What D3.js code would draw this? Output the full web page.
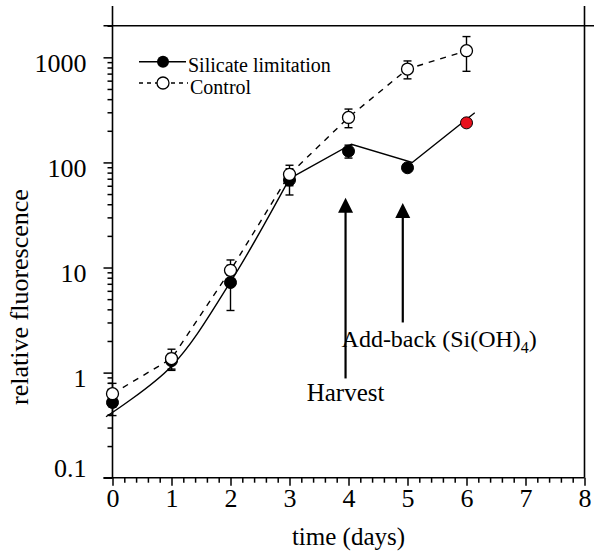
<!DOCTYPE html>
<html><head><meta charset="utf-8">
<script src="https://cdn.jsdelivr.net/npm/d3@7"></script>
<style>body{margin:0;background:#fff}svg{display:block}text{font-family:"Liberation Serif","Times New Roman",serif;fill:#000}</style>
</head><body><svg id="c" width="594" height="552"></svg>
<script>
// ---- data ----
const days = [0, 1, 2, 3, 4, 5, 6];
const silicate = [0.52, 1.3, 7.2, 68, 128, 89, 238];
const silicateErr = [0.13, 0.22, 3.3, 19, 18, 5, 10];
const control = [0.63, 1.36, 9.4, 77, 268, 774, 1156];
const controlErr = [0.16, 0.31, 2.4, 17, 54, 150, 420];
const highlightDay = 6; // red point
const modelDays = [-0.11, 1, 2, 3];
const modelVals = [0.38, 1.15, 7.3, 70];
const modelLateDays = [3, 4.05, 5.08, 6.14];
const modelLateVals = [70, 149, 100, 297];
const xTicks = [0, 1, 2, 3, 4, 5, 6, 7, 8];
const yTicks = [0.1, 1, 10, 100, 1000];
const yTickLabels = ["0.1", "1", "10", "100", "1000"];
const arrowDays = [3.95, 4.92];
const arrowTop = [46, 41];
const arrowBottom = [0.88, 3.0];
const legendLabels = ["Silicate limitation", "Control"];

// ---- layout ----
const FONT = "Liberation Serif, Times New Roman, serif";
const L = 112.5, R = 584.5, T = 25.7, B = 477.7;
const svg = d3.select("#c");
const x = d3.scaleLinear().domain([0, 8]).range([L, R]);
const y = d3.scaleLog().domain([0.1, 2000]).range([B, T]);

// frame lines
svg.append("line").attr("x1", L - 9).attr("x2", 594).attr("y1", T).attr("y2", T).attr("stroke", "#000").attr("stroke-width", 1.6);
svg.append("line").attr("x1", L).attr("x2", L).attr("y1", 6).attr("y2", B).attr("stroke", "#000").attr("stroke-width", 1.6);
svg.append("line").attr("x1", R).attr("x2", R).attr("y1", 6).attr("y2", B).attr("stroke", "#000").attr("stroke-width", 1.6);
svg.append("line").attr("x1", L - 9).attr("x2", R).attr("y1", B).attr("y2", B).attr("stroke", "#000").attr("stroke-width", 1.6);

// x axis
const xMinor = d3.range(0, 8.001, 0.2).filter(v => Math.abs(v - Math.round(v)) > 1e-6);
const gxm = svg.append("g").attr("transform", `translate(0,${B})`)
  .call(d3.axisBottom(x).tickValues(xMinor).tickSize(5).tickFormat(""));
const gx = svg.append("g").attr("transform", `translate(0,${B})`)
  .call(d3.axisBottom(x).tickValues(xTicks).tickSize(8).tickFormat(d3.format("d")));
[gxm, gx].forEach(g => { g.attr("font-family", FONT); g.select(".domain").remove(); g.selectAll("line").attr("stroke", "#000").attr("stroke-width", 1.5); });
gx.selectAll("text").attr("font-size", 26).attr("dy", "0.72em").attr("y", 11).attr("font-family", FONT);

// y axis
const yMinor = [];
[0.1, 1, 10, 100, 1000].forEach(d => { for (let k = 2; k <= 9; k++) if (d * k <= 2000) yMinor.push(d * k); });
const gym = svg.append("g").attr("transform", `translate(${L},0)`)
  .call(d3.axisLeft(y).tickValues(yMinor).tickSize(5).tickFormat(""));
const gy = svg.append("g").attr("transform", `translate(${L},0)`)
  .call(d3.axisLeft(y).tickValues(yTicks).tickSize(9).tickFormat((d, i) => yTickLabels[i]));
[gym, gy].forEach(g => { g.attr("font-family", FONT); g.select(".domain").remove(); g.selectAll("line").attr("stroke", "#000").attr("stroke-width", 1.5); });
gy.selectAll("text").attr("font-size", 26).attr("x", -26).attr("font-family", FONT)
  .attr("dy", (d, i) => i === 0 ? "-0.05em" : "0.55em");

// axis titles
svg.append("text").attr("x", (L + R) / 2).attr("y", 545).attr("text-anchor", "middle").attr("font-size", 25).text("time (days)");
svg.append("text").attr("transform", `translate(28,297) rotate(-90)`).attr("text-anchor", "middle").attr("font-size", 26).text("relative fluorescence");

// model lines
svg.append("path").datum(modelDays.map((d, i) => [d, modelVals[i]]))
  .attr("d", d3.line().x(d => x(d[0])).y(d => y(d[1])).curve(d3.curveCatmullRom.alpha(0.5)))
  .attr("fill", "none").attr("stroke", "#000").attr("stroke-width", 1.4);
svg.append("path").datum(modelLateDays.map((d, i) => [d, modelLateVals[i]]))
  .attr("d", d3.line().x(d => x(d[0])).y(d => y(d[1]))).attr("fill", "none").attr("stroke", "#000").attr("stroke-width", 1.4);
svg.append("path").datum(days.map((d, i) => [d, control[i]]))
  .attr("d", d3.line().x(d => x(d[0])).y(d => y(d[1]))).attr("fill", "none").attr("stroke", "#000").attr("stroke-width", 1.4).attr("stroke-dasharray", "6,6");

// error bars
function errBars(vals, errs) {
  const g = svg.append("g").attr("stroke", "#000").attr("stroke-width", 1.4);
  days.forEach((d, i) => {
    const cx = x(d), y1 = y(vals[i] + errs[i]), y0 = y(Math.max(vals[i] - errs[i], 0.101));
    g.append("line").attr("x1", cx).attr("x2", cx).attr("y1", y1).attr("y2", y0);
    g.append("line").attr("x1", cx - 4).attr("x2", cx + 4).attr("y1", y1).attr("y2", y1);
    g.append("line").attr("x1", cx - 4).attr("x2", cx + 4).attr("y1", y0).attr("y2", y0);
  });
}
errBars(silicate, silicateErr);
errBars(control, controlErr);

// points
svg.append("g").selectAll("circle").data(days).join("circle")
  .attr("cx", d => x(d)).attr("cy", (d, i) => y(silicate[i])).attr("r", 6)
  .attr("fill", d => d === highlightDay ? "#e8101c" : "#000").attr("stroke", "#000").attr("stroke-width", 1);
svg.append("g").selectAll("circle").data(days).join("circle")
  .attr("cx", d => x(d)).attr("cy", (d, i) => y(control[i])).attr("r", 6)
  .attr("fill", "#fff").attr("stroke", "#000").attr("stroke-width", 1.3);

// legend
const lg = svg.append("g");
lg.append("line").attr("x1", 139).attr("x2", 186).attr("y1", 61.7).attr("y2", 61.7).attr("stroke", "#000").attr("stroke-width", 1.4);
lg.append("circle").attr("cx", 163).attr("cy", 61.7).attr("r", 6).attr("fill", "#000");
lg.append("text").attr("x", 188).attr("y", 71.5).attr("font-size", 20).text(legendLabels[0]);
lg.append("line").attr("x1", 139).attr("x2", 188).attr("y1", 83).attr("y2", 83).attr("stroke", "#000").attr("stroke-width", 1.4).attr("stroke-dasharray", "4,4");
lg.append("circle").attr("cx", 163).attr("cy", 83).attr("r", 6).attr("fill", "#fff").attr("stroke", "#000").attr("stroke-width", 1.3);
lg.append("text").attr("x", 190).attr("y", 94).attr("font-size", 20).text(legendLabels[1]);

// arrows
arrowDays.forEach((d, i) => {
  const ax = x(d), yt = y(arrowTop[i]), yb = y(arrowBottom[i]);
  svg.append("line").attr("x1", ax).attr("x2", ax).attr("y1", yb).attr("y2", yt + 12).attr("stroke", "#000").attr("stroke-width", 2.2);
  svg.append("path").attr("d", `M${ax},${yt} L${ax - 7.5},${yt + 15} L${ax + 7.5},${yt + 15} Z`).attr("fill", "#000");
});

// annotations
const ab = svg.append("text").attr("x", x(arrowDays[0]) - 4).attr("y", 347).attr("font-size", 24);
ab.append("tspan").text("Add-back (Si(OH)");
ab.append("tspan").attr("font-size", 16).attr("dy", 6).text("4");
ab.append("tspan").attr("dy", -6).text(")");
svg.append("text").attr("x", x(arrowDays[0])).attr("y", 401).attr("text-anchor", "middle").attr("font-size", 25).text("Harvest");
</script></body></html>
